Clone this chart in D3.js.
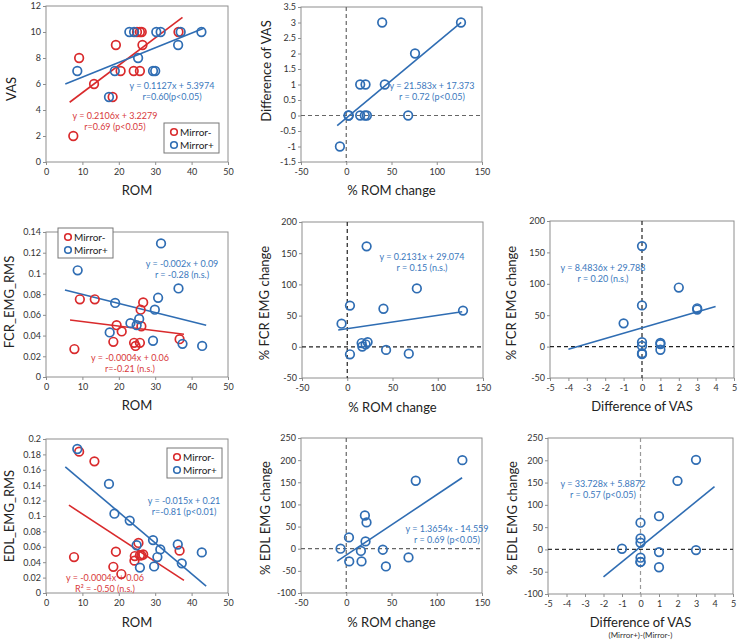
<!DOCTYPE html>
<html>
<head>
<meta charset="utf-8">
<script src="https://cdn.jsdelivr.net/npm/d3@7"></script>
<style>
  body { margin: 0; background: #fff; }
  text { font-family: Lato, "Open Sans", sans-serif; }
</style>
</head>
<body>
<div id="chart"></div>
<script>
//////////////////////////////  Data  //////////////////////////////
// [x, y] per subject
const vasRomMinus = [[7.5,2],[9.1,8],[13.2,6],[19.2,9],[18.3,5],[20.5,7],[24.1,7],[25.8,7],[25,10],[25.8,10],[26.3,10],[26.5,9],[36.4,10]];
const vasRomPlus  = [[8.6,7],[17.3,5],[18.9,7],[22.9,10],[24.2,10],[25.3,8],[29.4,7],[30,7],[30.3,10],[31.5,10],[36.3,9],[37,10],[42.7,10]];
const vasDiffRom  = [[-7,-1],[2.6,0],[2.6,0],[15.4,1],[21.3,1],[15.4,0],[20.5,0],[22.8,0],[39.7,3],[42.6,1],[68.4,0],[76,2],[126.8,3]];

const fcrRomMinus = [[7.8,0.027],[9.3,0.075],[13.4,0.075],[18.5,0.034],[19.4,0.050],[20.8,0.044],[24.2,0.033],[24.6,0.030],[25.8,0.033],[26.0,0.065],[26.2,0.049],[26.7,0.072],[36.7,0.0365]];
const fcrRomPlus  = [[8.7,0.103],[17.5,0.043],[19,0.0715],[23.2,0.052],[24.9,0.050],[25.6,0.056],[29.4,0.035],[29.9,0.065],[30.8,0.0765],[31.6,0.129],[36.4,0.0855],[37.5,0.032],[42.9,0.030]];
const fcrChgRom   = [[-6.3,37],[3,66],[3,-12],[15.9,6],[16.6,0.5],[20.3,4],[22.5,7.5],[21.4,161],[40,61],[42.9,-5],[68,-11],[76.9,93.5],[127.9,58]];
const fcrChgVas   = [[0,160],[0,65.5],[0,7],[0,1],[0,-10.6],[0,-12],[-1,37],[1,6],[1,4],[1,-5],[2,94],[3,61],[3,59]];

const edlRomMinus = [[7.7,0.0467],[9.1,0.1836],[13.3,0.171],[18.5,0.034],[19.2,0.0536],[20.7,0.0246],[24.3,0.042],[24.4,0.048],[25.4,0.065],[25.8,0.049],[26.2,0.049],[26.7,0.050],[36.7,0.055]];
const edlRomPlus  = [[8.6,0.187],[17.3,0.1417],[18.8,0.103],[23,0.094],[24.9,0.062],[25.8,0.033],[29.4,0.0687],[29.7,0.0345],[30.6,0.0467],[31.4,0.0566],[36.2,0.063],[37.3,0.0385],[42.8,0.0527]];
const edlChgRom   = [[-6.3,0],[3,25.6],[3.3,-28.6],[16.2,-5],[16.9,-28.6],[20.6,75],[22.4,59.4],[21.3,16.5],[40.4,-2.3],[43.8,-40],[68.8,-19.6],[76.8,153.5],[128.3,200]];
const edlChgVas   = [[-1,1.5],[0,60],[0,24.6],[0,15],[0,-18.6],[0,-28],[0,-28],[1,74.6],[1,-6],[1,-40],[2,153.7],[3,201],[3,-1.5]];

// trend lines: [slope, intercept, xFrom, xTo]
const fitVasMinus  = [0.2106, 3.2279, 6.5, 37.5];
const fitVasPlus   = [0.1127, 5.3974, 5.3, 43.5];
const fitVasDiff   = [0.0243, -0.08, -10, 127];
const fitFcrMinus  = [-0.00044, 0.058, 6.6, 37.9];
const fitFcrPlus   = [-0.00088, 0.0886, 5.2, 44];
const fitFcrChgRom = [0.2131, 29.074, -10, 127];
const fitFcrChgVas = [8.4836, 29.788, -4, 4];
const fitEdlMinus  = [-0.00309, 0.1335, 6.3, 37.9];
const fitEdlPlus   = [-0.004, 0.185, 5.3, 44];
const fitEdlChgRom = [1.3654, -14.559, -10, 128];
const fitEdlChgVas = [33.728, 5.8872, -2, 4];

// tick values
const romTicks     = [0, 10, 20, 30, 40, 50];
const pctRomTicks  = [-50, 0, 50, 100, 150];
const vasDiffTicks = [-5, -4, -3, -2, -1, 0, 1, 2, 3, 4, 5];
const vasTicks     = [0, 2, 4, 6, 8, 10, 12];
const dVasTicks    = [-1.5, -1, -0.5, 0, 0.5, 1, 1.5, 2, 2.5, 3, 3.5];
const fcrTicks     = [0, 0.02, 0.04, 0.06, 0.08, 0.1, 0.12, 0.14];
const fcrChgTicks  = [-50, 0, 50, 100, 150, 200];
const edlTicks     = [0, 0.02, 0.04, 0.06, 0.08, 0.1, 0.12, 0.14, 0.16, 0.18, 0.2];
const edlChgTicks  = [-100, -50, 0, 50, 100, 150, 200, 250];

const legendNames = ["Mirror-", "Mirror+"];

////////////////////////////////////////////////////////////////////
const RED = "#d92a2c", BLUE = "#2f6db3";
const RED_T = "#d8393b", BLUE_T = "#3a78bd";
const FRAME = "#8e8e8e";

const svg = d3.select("#chart").append("svg")
    .attr("width", 740).attr("height", 643);

const fmt = (d) => String(+d.toFixed(3));

const panels = [
    { box: [46, 6, 228, 162], xt: romTicks, yt: vasTicks, xl: "ROM", yl: "VAS", xlY: 195, ylX: 16, ylY: 89,
      series: [[vasRomMinus, RED], [vasRomPlus, BLUE]], fits: [[fitVasMinus, RED], [fitVasPlus, BLUE]],
      notes: [[172, 86, ["y = 0.1127x + 5.3974", "r=0.60(p<0.05)"], BLUE_T], [115, 116, ["y = 0.2106x + 3.2279", "r=0.69 (p<0.05)"], RED_T]],
      legend: [164, 123] },
    { box: [301, 7, 482, 162], xt: pctRomTicks, yt: dVasTicks, xl: "% ROM change", yl: "Difference of VAS", xlY: 195, ylX: 271, ylY: 71,
      series: [[vasDiffRom, BLUE]], fits: [[fitVasDiff, BLUE]],
      notes: [[432, 86, ["y = 21.583x + 17.373", "r = 0.72 (p<0.05)"], BLUE_T]],
      cross: ["#666", "#666"] },
    { box: [46, 232, 228, 377], xt: romTicks, yt: fcrTicks, xl: "ROM", yl: "FCR_EMG_RMS", xlY: 410, ylX: 14, ylY: 302,
      series: [[fcrRomMinus, RED], [fcrRomPlus, BLUE]], fits: [[fitFcrMinus, RED], [fitFcrPlus, BLUE]],
      notes: [[182, 264, ["y = -0.002x + 0.09", "r = -0.28 (n.s.)"], BLUE_T], [130, 358, ["y = -0.0004x + 0.06", "r=-0.21 (n.s.)"], RED_T]],
      legend: [58, 228] },
    { box: [302, 222, 483, 378], xt: pctRomTicks, yt: fcrChgTicks, xl: "% ROM change", yl: "% FCR EMG change", xlY: 412, ylX: 269, ylY: 303,
      series: [[fcrChgRom, BLUE]], fits: [[fitFcrChgRom, BLUE]],
      notes: [[422, 257, ["y = 0.2131x + 29.074", "r = 0.15 (n.s.)"], BLUE_T]],
      cross: ["#222", "#222"] },
    { box: [550, 221, 734, 378], xt: vasDiffTicks, yt: fcrChgTicks, xl: "Difference of VAS", yl: "% FCR EMG change", xlY: 411, ylX: 516, ylY: 303,
      series: [[fcrChgVas, BLUE]], fits: [[fitFcrChgVas, BLUE]],
      notes: [[603, 268, ["y = 8.4836x + 29.788", "r = 0.20 (n.s.)"], BLUE_T]],
      cross: ["#222", "#222"] },
    { box: [46, 439, 228, 593], xt: romTicks, yt: edlTicks, xl: "ROM", yl: "EDL_EMG_RMS", xlY: 627, ylX: 14, ylY: 516,
      series: [[edlRomMinus, RED], [edlRomPlus, BLUE]], fits: [[fitEdlMinus, RED], [fitEdlPlus, BLUE]],
      notes: [[184, 501, ["y = -0.015x + 0.21", "r=-0.81 (p<0.01)"], BLUE_T], [105, 578, ["y = -0.0004x + 0.06", "R² = -0.50 (n.s.)"], RED_T]],
      legend: [167, 448] },
    { box: [301, 438, 482, 593], xt: pctRomTicks, yt: edlChgTicks, xl: "% ROM change", yl: "% EDL EMG change", xlY: 627, ylX: 270, ylY: 518,
      series: [[edlChgRom, BLUE]], fits: [[fitEdlChgRom, BLUE]],
      notes: [[447, 529, ["y = 1.3654x - 14.559", "r = 0.69 (p<0.05)"], BLUE_T]],
      cross: ["#666", "#666"] },
    { box: [548, 438, 733, 594], xt: vasDiffTicks, yt: edlChgTicks, xl: "Difference of VAS", yl: "% EDL EMG change", xlY: 627, ylX: 517, ylY: 518,
      sub: "(Mirror+)-(Mirror-)",
      series: [[edlChgVas, BLUE]], fits: [[fitEdlChgVas, BLUE]],
      notes: [[603, 484, ["y = 33.728x + 5.8872", "r = 0.57 (p<0.05)"], BLUE_T]],
      cross: ["#999", "#333"] }
];

panels.forEach(drawPanel);

function drawPanel(p) {
    const [L, T, R, B] = p.box;
    const x = d3.scaleLinear().domain(d3.extent(p.xt)).range([L, R]);
    const y = d3.scaleLinear().domain(d3.extent(p.yt)).range([B, T]);
    const g = svg.append("g");

    // axes
    const xa = g.append("g")
        .attr("transform", `translate(0,${B})`)
        .call(d3.axisBottom(x).tickValues(p.xt).tickFormat(fmt).tickSize(3).tickSizeOuter(0));
    const ya = g.append("g")
        .attr("transform", `translate(${L},0)`)
        .call(d3.axisLeft(y).tickValues(p.yt).tickFormat(fmt).tickSize(3).tickSizeOuter(0));
    [xa, ya].forEach((a) => {
        a.select(".domain").remove();
        a.selectAll("line").attr("stroke", FRAME);
        a.selectAll("text").attr("font-size", 9).attr("fill", "#333")
            .style("font-family", "Lato, sans-serif");
    });
    xa.selectAll("text").attr("y", 7);
    ya.selectAll("text").attr("x", -5);

    // frame
    g.append("rect")
        .attr("x", L).attr("y", T).attr("width", R - L).attr("height", B - T)
        .attr("fill", "none").attr("stroke", FRAME).attr("stroke-width", 1);

    // dashed zero lines
    if (p.cross) {
        g.append("line")
            .attr("x1", x(0)).attr("x2", x(0)).attr("y1", T).attr("y2", B)
            .attr("stroke", p.cross[0]).attr("stroke-width", 1.2).attr("stroke-dasharray", "4,3");
        g.append("line")
            .attr("x1", L).attr("x2", R).attr("y1", y(0)).attr("y2", y(0))
            .attr("stroke", p.cross[1]).attr("stroke-width", 1.2).attr("stroke-dasharray", "4,3");
    }

    // trend lines
    p.fits.forEach(([f, c]) => {
        const [m, b, x0, x1] = f;
        g.append("line")
            .attr("x1", x(x0)).attr("y1", y(m * x0 + b))
            .attr("x2", x(x1)).attr("y2", y(m * x1 + b))
            .attr("stroke", c).attr("stroke-width", 1.6);
    });

    // points
    p.series.forEach(([pts, c]) => {
        g.append("g").selectAll("circle")
            .data(pts)
            .enter().append("circle")
            .attr("cx", (d) => x(d[0]))
            .attr("cy", (d) => y(d[1]))
            .attr("r", 4.3)
            .attr("fill", "none")
            .attr("stroke", c)
            .attr("stroke-width", 1.7);
    });

    // equations
    p.notes.forEach(([nx, ny, lines, c]) => {
        lines.forEach((t, i) => {
            g.append("text")
                .attr("x", nx).attr("y", ny + i * 11 + 3)
                .attr("text-anchor", "middle")
                .attr("font-size", 9).attr("fill", c)
                .text(t);
        });
    });

    // legend
    if (p.legend) {
        const [lx, ly] = p.legend;
        g.append("rect")
            .attr("x", lx).attr("y", ly).attr("width", 55).attr("height", 30)
            .attr("fill", "#fff").attr("stroke", "#777").attr("stroke-width", 1);
        legendNames.forEach((name, i) => {
            g.append("circle")
                .attr("cx", lx + 10).attr("cy", ly + 9 + i * 13).attr("r", 3.3)
                .attr("fill", "none").attr("stroke", i ? BLUE : RED).attr("stroke-width", 1.6);
            g.append("text")
                .attr("x", lx + 16).attr("y", ly + 12.5 + i * 13)
                .attr("font-size", 10).attr("fill", "#222")
                .text(name);
        });
    }

    // axis titles
    g.append("text")
        .attr("x", (L + R) / 2).attr("y", p.xlY)
        .attr("text-anchor", "middle").attr("font-size", 13).attr("fill", "#222")
        .text(p.xl);
    g.append("text")
        .attr("transform", `translate(${p.ylX},${p.ylY}) rotate(-90)`)
        .attr("text-anchor", "middle").attr("font-size", 13).attr("fill", "#222")
        .text(p.yl);
    if (p.sub) {
        g.append("text")
            .attr("x", (L + R) / 2).attr("y", p.xlY + 11)
            .attr("text-anchor", "middle").attr("font-size", 8).attr("fill", "#333")
            .text(p.sub);
    }
}
</script>
</body>
</html>
